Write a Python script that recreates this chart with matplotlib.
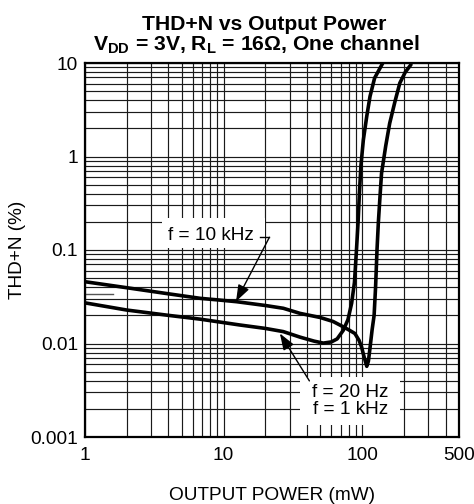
import matplotlib
matplotlib.use("Agg")
import matplotlib.pyplot as plt
from matplotlib.patches import Rectangle

plt.rcParams['font.family'] = ['Liberation Sans', 'DejaVu Sans']
plt.rcParams['mathtext.fontset'] = 'custom'
plt.rcParams['mathtext.rm'] = 'Liberation Sans'
plt.rcParams['mathtext.bf'] = 'Liberation Sans:bold'

# ---- data ----
p_10k = [1, 2, 4, 6.8, 9, 12.4, 20, 27, 35.6, 49.6, 61.7, 73, 80, 88.6, 95, 99,
         103, 108, 111, 114, 118, 122, 125, 128, 131, 134, 138, 148, 158, 172,
         187, 205, 225]
thd_10k = [0.0458, 0.0395, 0.034, 0.0304, 0.0293, 0.028, 0.0255, 0.0238, 0.021,
           0.019, 0.0172, 0.0151, 0.014, 0.0128, 0.0108, 0.0092, 0.0073, 0.0057,
           0.0065, 0.009, 0.014, 0.02, 0.04, 0.1, 0.2, 0.34, 0.66, 1.3, 2.26,
           3.8, 6.1, 8.0, 9.6]

p_1k = [1, 2, 4, 6.8, 13, 20, 27, 35.6, 45, 52.4, 60, 66, 73, 79, 84, 88, 91,
        93.5, 95.5, 98, 102, 108, 114, 123, 141]
thd_1k = [0.0272, 0.0228, 0.0200, 0.0182, 0.0158, 0.0145, 0.0134, 0.0117,
          0.0106, 0.0101, 0.0104, 0.0112, 0.0138, 0.018, 0.027, 0.045, 0.1,
          0.2, 0.4, 0.8, 1.5, 2.7, 4.4, 6.9, 10]

stray_x = [1, 1.6]
stray_y = [0.0336, 0.0336]

x_ticks = [1, 10, 100, 500]
x_labels = ['1', '10', '100', '500']
y_ticks = [0.001, 0.01, 0.1, 1, 10]
y_labels = ['0.001', '0.01', '0.1', '1', '10']

label_10k = 'f = 10 kHz'
label_1k = 'f = 20 Hz\nf = 1 kHz'
arrow_10k_tip = (12.3, 0.0282)
arrow_1k_tip = (25.5, 0.0128)

# ---- figure ----
fig = plt.figure(figsize=(4.74, 5.04), dpi=100)
ax = fig.add_axes([85/474, 67/504, 374/474, 374/504])
ax.set_xscale('log')
ax.set_yscale('log')
ax.set_xlim(1, 500)
ax.set_ylim(0.001, 10)

ax.set_axisbelow(True)
ax.grid(which='both', color='#1a1a1a', lw=0.85)
ax.set_xticks(x_ticks)
ax.set_xticklabels(x_labels)
ax.set_yticks(y_ticks)
ax.set_yticklabels(y_labels)
ax.tick_params(which='both', length=0, labelsize=13.7)
ax.tick_params(axis='x', pad=7)
ax.tick_params(axis='y', pad=5)
for s in ax.spines.values():
    s.set_linewidth(1.6)
    s.set_color('black')
    s.set_zorder(6)

ax.plot(p_10k, thd_10k, color='black', lw=2.6, solid_joinstyle='round',
        solid_capstyle='round', zorder=3)
ax.plot(p_1k, thd_1k, color='black', lw=2.6, solid_joinstyle='round',
        solid_capstyle='round', zorder=3)
ax.plot(stray_x, stray_y, color='#555555', lw=1.0, zorder=2)

# label boxes
ax.add_patch(Rectangle((0.206, 0.505), 0.275, 0.081, transform=ax.transAxes,
                       facecolor='white', edgecolor='none', zorder=4))
ax.add_patch(Rectangle((0.575, 0.032), 0.267, 0.128, transform=ax.transAxes,
                       facecolor='white', edgecolor='none', zorder=4))
ax.text(0.337, 0.540, label_10k, transform=ax.transAxes, ha='center',
        va='center', fontsize=13.7, zorder=5)
ax.text(0.709, 0.096, label_1k, transform=ax.transAxes, ha='center',
        va='center', fontsize=13.7, linespacing=1.05, zorder=5)

# arrows
ax.plot([0.468, 0.493], [0.534, 0.534], transform=ax.transAxes, color='black',
        lw=1.0, zorder=5)
ax.annotate('', xy=arrow_10k_tip, xycoords='data', xytext=(0.493, 0.534),
            textcoords='axes fraction',
            arrowprops=dict(arrowstyle='-|>,head_length=0.5,head_width=0.18',
                            mutation_scale=20, color='black', lw=1.0,
                            shrinkA=0, shrinkB=0), zorder=5)
ax.annotate('', xy=arrow_1k_tip, xycoords='data', xytext=(0.600, 0.150),
            textcoords='axes fraction',
            arrowprops=dict(arrowstyle='-|>,head_length=0.5,head_width=0.18',
                            mutation_scale=20, color='black', lw=1.0,
                            shrinkA=0, shrinkB=0), zorder=5)

# titles and axis labels
fig.text(264/474, 1 - 30.5/504, 'THD+N vs Output Power', ha='center',
         va='baseline', fontsize=15.2, fontweight='bold')
fig.text(256/474, 1 - 50.5/504,
         r'$\mathbf{V}_{\mathbf{DD}}$ = 3V, $\mathbf{R}_{\mathbf{L}}$ = 16Ω, One channel',
         ha='center', va='baseline', fontsize=15.2, fontweight='bold')
fig.text(272/474, 1 - 496/504, 'OUTPUT POWER (mW)', ha='center', va='center',
         fontsize=13.7)
fig.text(18/474, 1 - 250/504, 'THD+N (%)', ha='center', va='center',
         rotation=90, fontsize=13.7)

fig.savefig('out.png', dpi=100)
